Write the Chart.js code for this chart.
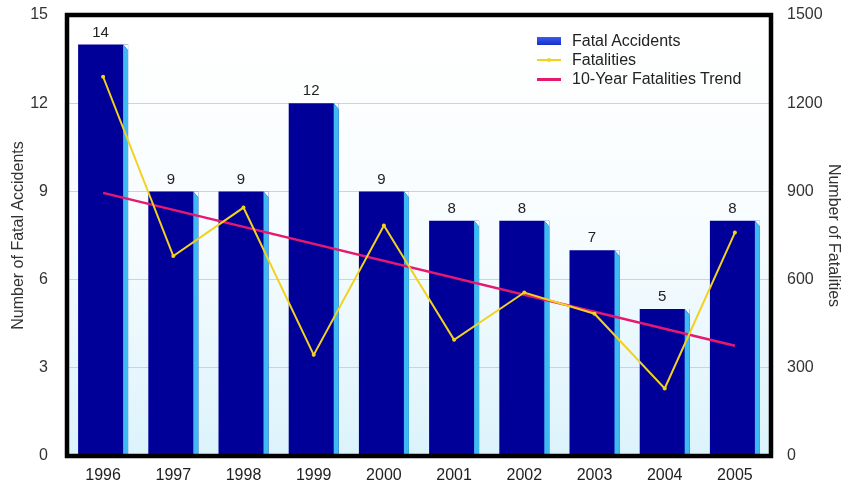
<!DOCTYPE html>
<html>
<head>
<meta charset="utf-8">
<script src="https://cdn.jsdelivr.net/npm/chart.js"></script>
<style>
    body { margin: 0; background: #fff; font-family: "Liberation Sans", Arial, sans-serif; }
    #wrap { position: relative; width: 849px; height: 482px; }
    #legend { position: absolute; left: 537px; top: 31px; font-size: 16px; color: #222; }
    #legend .row { display: flex; align-items: center; height: 19px; }
    #legend .sw { width: 24px; margin-right: 11px; position: relative; height: 10px; }
</style>
</head>
<body>
<div id="wrap">
    <canvas id="myChart"></canvas>
    <div id="legend"></div>
</div>
<script>
const years = ['1996', '1997', '1998', '1999', '2000', '2001', '2002', '2003', '2004', '2005'];
const fatalAccidents = [14, 9, 9, 12, 9, 8, 8, 7, 5, 8];
const fatalities = [1290, 680, 845, 344, 784, 395, 556, 484, 230, 760];
// trend only known at its two ends, drawn as a straight line between them
const trend = [895, null, null, null, null, null, null, null, null, 375];
const leftTicks = [0, 3, 6, 9, 12, 15];
const rightTicks = [0, 300, 600, 900, 1200, 1500];

const barColor = '#000099';
const sideColor = '#3fb9f2';
const lineColor = '#f2d21e';
const trendColor = '#e6196e';
const sideWidth = 5;

function plotGradient(chart) {
    const {ctx, chartArea: a} = chart;
    const g = ctx.createLinearGradient(0, a.top, 0, a.bottom);
    g.addColorStop(0, '#ffffff');
    g.addColorStop(0.5, '#f7fcfe');
    g.addColorStop(1, '#dcf3fb');
    return g;
}

const backgroundPlugin = {
    id: 'bg',
    beforeDraw(chart) {
        const {ctx, chartArea: a} = chart;
        ctx.save();
        ctx.fillStyle = plotGradient(chart);
        ctx.fillRect(a.left, a.top, a.right - a.left, a.bottom - a.top);
        ctx.restore();
    }
};

// the right strip of each bar becomes the light blue 3d side
const sidePlugin = {
    id: 'side',
    afterDatasetDraw(chart, args) {
        if (args.meta.type !== 'bar') return;
        const ctx = chart.ctx;
        const bg = plotGradient(chart);
        ctx.save();
        args.meta.data.forEach(bar => {
            const r = bar.x + bar.width / 2;
            const l = r - sideWidth;
            ctx.fillStyle = bg;
            ctx.beginPath();
            ctx.moveTo(l, bar.y);
            ctx.lineTo(r, bar.y);
            ctx.lineTo(r, bar.y + 6);
            ctx.closePath();
            ctx.fill();
            ctx.fillStyle = sideColor;
            ctx.beginPath();
            ctx.moveTo(l, bar.y);
            ctx.lineTo(r, bar.y + 6);
            ctx.lineTo(r, bar.base);
            ctx.lineTo(l, bar.base);
            ctx.closePath();
            ctx.fill();
        });
        ctx.restore();
    }
};

const labelPlugin = {
    id: 'barLabels',
    afterDatasetsDraw(chart) {
        const ctx = chart.ctx;
        const meta = chart.getDatasetMeta(0);
        ctx.save();
        ctx.font = '15px "Liberation Sans", Arial, sans-serif';
        ctx.fillStyle = '#222';
        ctx.textAlign = 'center';
        ctx.textBaseline = 'middle';
        meta.data.forEach((bar, i) => {
            ctx.fillText(fatalAccidents[i], bar.x - sideWidth / 2, bar.y - 12);
        });
        ctx.restore();
    }
};

const framePlugin = {
    id: 'frame',
    afterDraw(chart) {
        const {ctx, chartArea: a} = chart;
        ctx.save();
        ctx.strokeStyle = '#000';
        ctx.lineWidth = 4.5;
        ctx.strokeRect(a.left - 1, a.top, a.right - a.left + 2, a.bottom - a.top);
        ctx.restore();
    }
};

const tickFont = { family: '"Liberation Sans", Arial, sans-serif', size: 16 };

function fixWidth(w) {
    return function (scale) {
        scale.width = w;
        // tick padding otherwise pushes the plot down
        scale.paddingTop = 0;
        scale.paddingBottom = 0;
    };
}

function buildChart() {
    const ctx = document.getElementById('myChart');
    return new Chart(ctx, {
        data: {
            labels: years,
            datasets: [{
                type: 'bar',
                label: 'Fatal Accidents',
                data: fatalAccidents,
                backgroundColor: barColor,
                categoryPercentage: 1,
                barPercentage: 0.712,
                yAxisID: 'y',
                order: 3
            }, {
                type: 'line',
                label: 'Fatalities',
                data: fatalities,
                borderColor: lineColor,
                backgroundColor: lineColor,
                borderWidth: 2,
                pointRadius: 2,
                pointBorderWidth: 0,
                tension: 0,
                yAxisID: 'y1',
                order: 1
            }, {
                type: 'line',
                label: '10-Year Fatalities Trend',
                data: trend,
                borderColor: trendColor,
                borderWidth: 2.5,
                pointRadius: 0,
                spanGaps: true,
                yAxisID: 'y1',
                order: 2
            }]
        },
        options: {
            responsive: true,
            maintainAspectRatio: false,
            animation: false,
            layout: { padding: { top: 15, left: 0, right: 0, bottom: 0 } },
            plugins: {
                legend: { display: false },
                tooltip: { enabled: false }
            },
            scales: {
                x: {
                    grid: { display: false },
                    border: { display: false },
                    ticks: { color: '#222', padding: 2, font: tickFont },
                    afterFit(scale) { scale.height = 26; }
                },
                y: {
                    position: 'left',
                    min: 0,
                    max: 15,
                    afterBuildTicks(scale) { scale.ticks = leftTicks.map(v => ({ value: v })); },
                    grid: { color: '#d2d2d2', lineWidth: 1, drawTicks: false },
                    border: { display: false },
                    ticks: { color: '#333', padding: 20, font: tickFont, callback: v => String(v) },
                    title: {
                        display: true,
                        text: 'Number of Fatal Accidents',
                        color: '#333',
                        padding: { top: 9, bottom: 0 },
                        font: tickFont
                    },
                    afterFit: fixWidth(68)
                },
                y1: {
                    position: 'right',
                    min: 0,
                    max: 1500,
                    afterBuildTicks(scale) { scale.ticks = rightTicks.map(v => ({ value: v })); },
                    grid: { display: false, drawTicks: false },
                    border: { display: false },
                    ticks: { color: '#333', padding: 17, font: tickFont, callback: v => String(v) },
                    title: {
                        display: true,
                        text: 'Number of Fatalities',
                        color: '#333',
                        padding: { top: 6, bottom: 0 },
                        font: tickFont
                    },
                    afterFit: fixWidth(79)
                }
            }
        },
        plugins: [backgroundPlugin, sidePlugin, labelPlugin, framePlugin]
    });
}

function buildLegend(chart) {
    const box = document.getElementById('legend');
    chart.data.datasets.forEach(ds => {
        const row = document.createElement('div');
        row.className = 'row';
        const sw = document.createElement('div');
        sw.className = 'sw';
        if (ds.type === 'bar') {
            sw.innerHTML = '<div style="position:absolute;left:0;top:1px;width:24px;height:8px;background:linear-gradient(#3a5cf0,#1530c8)"></div>';
        } else {
            let html = '<div style="position:absolute;left:0;top:4px;width:24px;height:' + (ds.borderWidth > 2 ? 3 : 2) + 'px;background:' + ds.borderColor + '"></div>';
            if (ds.pointRadius > 0) {
                html += '<div style="position:absolute;left:10px;top:3px;width:4px;height:4px;border-radius:2px;background:' + ds.borderColor + '"></div>';
            }
            sw.innerHTML = html;
        }
        const txt = document.createElement('span');
        txt.textContent = ds.label;
        row.appendChild(sw);
        row.appendChild(txt);
        box.appendChild(row);
    });
}

document.addEventListener('DOMContentLoaded', function () {
    const chart = buildChart();
    buildLegend(chart);
});
</script>
</body>
</html>
